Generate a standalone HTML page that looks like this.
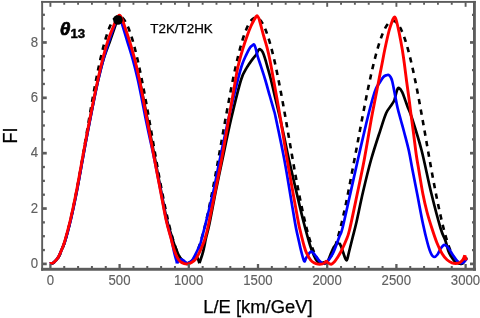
<!DOCTYPE html>
<html>
<head>
<meta charset="utf-8">
<title>FI vs L/E</title>
<style>
html,body{margin:0;padding:0;background:#ffffff;}
body{width:480px;height:318px;overflow:hidden;font-family:"Liberation Sans",sans-serif;}
svg{display:block;}
svg text{font-family:"Liberation Sans",sans-serif;}
</style>
</head>
<body>
<svg width="480" height="318" viewBox="0 0 480 318">
<rect x="0" y="0" width="480" height="318" fill="#ffffff"/>
<defs><filter id="idf" x="0" y="0" width="480" height="318" filterUnits="userSpaceOnUse"><feOffset dx="0" dy="0"/></filter><clipPath id="plot"><rect x="42.00" y="2.00" width="433.00" height="267.25"/></clipPath></defs>
<g clip-path="url(#plot)" fill="none" stroke-linejoin="round" stroke-linecap="butt">
<path d="M50.30,263.90 L51.09,263.84 L51.88,263.65 L52.68,263.34 L53.47,262.90 L54.26,262.34 L55.05,261.66 L55.84,260.86 L56.64,259.93 L57.43,258.88 L58.22,257.71 L59.01,256.43 L59.80,255.02 L60.50,253.51 L61.19,251.87 L61.88,250.13 L62.57,248.27 L63.26,246.30 L63.96,244.23 L64.65,242.05 L65.34,239.77 L66.03,237.39 L66.72,234.91 L67.42,232.34 L68.11,229.67 L68.80,226.91 L69.49,224.07 L70.18,221.14 L70.88,218.12 L71.57,215.03 L72.26,211.87 L72.95,208.63 L73.64,205.32 L74.34,201.95 L75.03,198.51 L75.72,195.02 L76.41,191.47 L77.10,187.87 L77.80,184.22 L78.49,180.52 L79.18,176.79 L79.87,173.02 L80.55,169.21 L81.21,165.37 L81.88,161.51 L82.54,157.63 L83.20,153.73 L83.86,149.82 L84.52,145.89 L85.18,141.97 L85.85,138.03 L86.51,134.10 L87.17,130.18 L87.83,126.27 L88.49,122.37 L89.15,118.48 L89.82,114.62 L90.48,110.79 L91.14,106.98 L91.80,103.21 L92.47,99.48 L93.13,95.78 L93.79,92.13 L94.46,88.53 L95.12,84.98 L95.79,81.49 L96.45,78.05 L97.12,74.68 L97.78,71.37 L98.45,68.13 L99.12,64.96 L99.79,61.87 L100.46,58.86 L101.13,55.93 L101.80,53.09 L102.47,50.33 L103.14,47.66 L103.81,45.09 L104.48,42.61 L105.16,40.23 L105.83,37.94 L106.50,35.77 L107.18,33.69 L107.86,31.73 L108.54,29.87 L109.21,28.12 L109.89,26.49 L110.57,24.97 L111.25,23.57 L111.94,22.28 L112.62,21.11 L113.30,20.06 L113.99,19.14 L114.67,18.33 L115.36,17.65 L116.05,17.09 L116.74,16.65 L117.43,16.34 L118.12,16.15 L118.81,16.08 L119.50,16.15 L120.19,16.33 L120.88,16.64 L121.57,17.08 L122.26,17.63 L122.95,18.31 L123.64,19.12 L124.33,20.04 L125.02,21.09 L125.71,22.26 L126.40,23.54 L127.09,24.94 L127.77,26.46 L128.46,28.09 L129.15,29.83 L129.83,31.69 L130.52,33.65 L131.21,35.72 L131.89,37.90 L132.58,40.18 L133.26,42.55 L133.95,45.03 L134.63,47.60 L135.32,50.27 L136.00,53.02 L136.68,55.87 L137.37,58.79 L138.05,61.80 L138.73,64.89 L139.42,68.05 L140.10,71.29 L140.78,74.59 L141.46,77.97 L142.15,81.40 L142.83,84.89 L143.51,88.44 L144.19,92.04 L144.87,95.68 L145.55,99.37 L146.24,103.11 L146.92,106.88 L147.60,110.68 L148.28,114.51 L148.96,118.37 L149.64,122.25 L150.32,126.15 L151.00,130.06 L151.68,133.98 L152.36,137.91 L153.04,141.84 L153.72,145.76 L154.40,149.68 L155.08,153.60 L155.77,157.49 L156.45,161.37 L157.13,165.23 L157.81,169.07 L158.49,172.87 L159.19,176.64 L159.88,180.38 L160.57,184.07 L161.26,187.72 L161.95,191.32 L162.65,194.87 L163.34,198.36 L164.03,201.80 L164.72,205.17 L165.41,208.48 L166.11,211.72 L166.80,214.89 L167.49,217.98 L168.18,220.99 L168.87,223.92 L169.57,226.77 L170.26,229.53 L170.95,232.20 L171.64,234.77 L172.33,237.26 L173.03,239.64 L173.72,241.92 L174.41,244.11 L175.10,246.18 L175.79,248.15 L176.49,250.01 L177.18,251.77 L177.87,253.40 L178.56,254.93 L179.25,256.34 L179.95,257.63 L180.66,258.80 L181.37,259.86 L182.09,260.79 L182.80,261.61 L183.52,262.30 L184.23,262.86 L184.95,263.31 L185.66,263.63 L186.37,263.83 L187.09,263.90 L187.80,263.85 L188.52,263.67 L189.23,263.37 L189.95,262.95 L190.66,262.40 L191.38,261.73 L192.09,260.94 L192.81,260.02 L193.52,258.99 L194.23,257.84 L194.93,256.56 L195.62,255.18 L196.31,253.67 L197.00,252.05 L197.70,250.32 L198.39,248.48 L199.08,246.54 L199.77,244.48 L200.46,242.32 L201.16,240.06 L201.85,237.69 L202.54,235.23 L203.23,232.68 L203.92,230.03 L204.62,227.29 L205.31,224.46 L206.00,221.55 L206.69,218.56 L207.38,215.49 L208.08,212.35 L208.77,209.13 L209.46,205.84 L210.15,202.49 L210.84,199.08 L211.54,195.61 L212.23,192.08 L212.92,188.50 L213.61,184.87 L214.30,181.20 L215.00,177.49 L215.69,173.74 L216.38,169.95 L217.07,166.14 L217.76,162.30 L218.46,158.44 L219.15,154.57 L219.84,150.68 L220.53,146.77 L221.22,142.87 L221.92,138.96 L222.61,135.05 L223.30,131.15 L223.99,127.26 L224.68,123.38 L225.38,119.52 L226.07,115.68 L226.76,111.87 L227.45,108.09 L228.14,104.33 L228.84,100.62 L229.53,96.95 L230.22,93.32 L230.91,89.74 L231.60,86.21 L232.30,82.73 L232.99,79.31 L233.68,75.96 L234.37,72.67 L235.06,69.45 L235.76,66.30 L236.45,63.23 L237.14,60.23 L237.83,57.32 L238.52,54.49 L239.22,51.74 L239.91,49.09 L240.60,46.53 L241.29,44.06 L241.98,41.69 L242.68,39.42 L243.37,37.26 L244.06,35.20 L244.75,33.24 L245.44,31.39 L246.14,29.65 L246.83,28.03 L247.52,26.52 L248.21,25.12 L248.90,23.84 L249.60,22.67 L250.29,21.63 L250.98,20.71 L251.67,19.90 L252.36,19.22 L253.06,18.66 L253.75,18.23 L254.44,17.91 L255.13,17.72 L255.82,17.66 L256.52,17.72 L257.21,17.90 L257.90,18.21 L258.59,18.63 L259.28,19.19 L259.96,19.86 L260.65,20.66 L261.34,21.57 L262.03,22.61 L262.71,23.77 L263.40,25.04 L264.08,26.43 L264.77,27.94 L265.45,29.55 L266.13,31.28 L266.82,33.13 L267.50,35.07 L268.18,37.13 L268.86,39.29 L269.54,41.55 L270.22,43.91 L270.90,46.37 L271.58,48.92 L272.26,51.57 L272.93,54.30 L273.61,57.13 L274.29,60.03 L274.97,63.02 L275.64,66.08 L276.32,69.22 L276.99,72.44 L277.67,75.72 L278.34,79.06 L279.02,82.47 L279.69,85.94 L280.36,89.46 L281.04,93.03 L281.71,96.66 L282.38,100.32 L283.06,104.03 L283.73,107.77 L284.40,111.55 L285.07,115.35 L285.75,119.18 L286.42,123.04 L287.09,126.91 L287.76,130.79 L288.43,134.68 L289.11,138.58 L289.78,142.49 L290.45,146.39 L291.12,150.28 L291.79,154.16 L292.46,158.04 L293.14,161.89 L293.81,165.72 L294.48,169.53 L295.16,173.31 L295.85,177.05 L296.54,180.76 L297.24,184.43 L297.93,188.06 L298.62,191.63 L299.31,195.16 L300.00,198.63 L300.70,202.05 L301.39,205.40 L302.08,208.68 L302.77,211.90 L303.46,215.05 L304.16,218.12 L304.85,221.12 L305.54,224.03 L306.23,226.86 L306.92,229.61 L307.62,232.26 L308.31,234.82 L309.00,237.29 L309.69,239.66 L310.38,241.94 L311.08,244.11 L311.77,246.18 L312.46,248.14 L313.15,249.99 L313.84,251.74 L314.54,253.37 L315.23,254.89 L315.92,256.30 L316.61,257.59 L317.29,258.76 L317.96,259.81 L318.63,260.75 L319.30,261.57 L319.98,262.26 L320.65,262.83 L321.32,263.28 L321.99,263.61 L322.66,263.82 L323.34,263.90 L324.01,263.86 L324.68,263.69 L325.35,263.41 L326.02,263.00 L326.70,262.46 L327.37,261.81 L328.04,261.04 L328.71,260.14 L329.38,259.13 L330.06,257.99 L330.74,256.75 L331.44,255.38 L332.13,253.90 L332.82,252.31 L333.51,250.61 L334.20,248.79 L334.90,246.87 L335.59,244.85 L336.28,242.72 L336.97,240.49 L337.66,238.16 L338.36,235.73 L339.05,233.21 L339.74,230.60 L340.43,227.90 L341.12,225.11 L341.82,222.24 L342.51,219.28 L343.20,216.25 L343.89,213.15 L344.58,209.97 L345.28,206.73 L345.97,203.42 L346.66,200.05 L347.35,196.62 L348.04,193.14 L348.74,189.60 L349.43,186.02 L350.12,182.39 L350.81,178.73 L351.50,175.02 L352.20,171.29 L352.93,167.52 L353.65,163.73 L354.37,159.92 L355.09,156.09 L355.81,152.25 L356.54,148.40 L357.26,144.54 L357.98,140.68 L358.70,136.82 L359.43,132.96 L360.15,129.12 L360.87,125.29 L361.59,121.47 L362.31,117.68 L363.04,113.91 L363.76,110.18 L364.48,106.47 L365.20,102.80 L365.92,99.17 L366.64,95.59 L367.36,92.05 L368.08,88.56 L368.80,85.13 L369.52,81.75 L370.24,78.44 L370.95,75.19 L371.67,72.00 L372.39,68.89 L373.10,65.86 L373.82,62.90 L374.53,60.02 L375.25,57.22 L375.96,54.51 L376.68,51.89 L377.39,49.36 L378.10,46.92 L378.81,44.58 L379.52,42.34 L380.23,40.19 L380.94,38.16 L381.64,36.22 L382.35,34.40 L383.06,32.68 L383.76,31.07 L384.46,29.58 L385.17,28.19 L385.87,26.93 L386.57,25.78 L387.27,24.74 L387.97,23.83 L388.67,23.04 L389.37,22.36 L390.06,21.81 L390.76,21.37 L391.45,21.06 L392.15,20.87 L392.84,20.81 L393.53,20.86 L394.22,21.04 L394.91,21.34 L395.60,21.76 L396.29,22.31 L396.98,22.97 L397.67,23.75 L398.36,24.66 L399.04,25.68 L399.73,26.82 L400.42,28.07 L401.10,29.44 L401.79,30.93 L402.47,32.52 L403.16,34.23 L403.84,36.04 L404.52,37.96 L405.20,39.99 L405.88,42.12 L406.57,44.35 L407.25,46.68 L407.93,49.10 L408.61,51.62 L409.29,54.23 L409.96,56.93 L410.64,59.71 L411.32,62.58 L412.00,65.53 L412.67,68.55 L413.35,71.65 L414.03,74.82 L414.70,78.05 L415.38,81.35 L416.06,84.72 L416.73,88.13 L417.41,91.61 L418.08,95.13 L418.75,98.71 L419.43,102.32 L420.10,105.98 L420.78,109.67 L421.45,113.40 L422.12,117.15 L422.80,120.93 L423.47,124.73 L424.14,128.55 L424.82,132.38 L425.49,136.22 L426.16,140.07 L426.83,143.92 L427.51,147.77 L428.18,151.61 L428.85,155.44 L429.53,159.26 L430.20,163.07 L430.87,166.85 L431.55,170.60 L432.23,174.33 L432.92,178.03 L433.61,181.69 L434.30,185.31 L434.99,188.89 L435.69,192.42 L436.38,195.90 L437.07,199.33 L437.76,202.70 L438.45,206.00 L439.15,209.25 L439.84,212.43 L440.53,215.53 L441.22,218.57 L441.91,221.53 L442.61,224.40 L443.30,227.20 L443.99,229.91 L444.68,232.53 L445.37,235.06 L446.07,237.50 L446.76,239.85 L447.45,242.10 L448.14,244.24 L448.83,246.29 L449.53,248.23 L450.22,250.06 L450.91,251.79 L451.60,253.41 L452.29,254.91 L452.99,256.30 L453.68,257.58 L454.37,258.75 L455.06,259.80 L455.75,260.73 L456.45,261.54 L457.14,262.23 L457.83,262.81 L458.52,263.26 L459.21,263.59 L459.91,263.81 L460.60,263.90 L461.29,263.87 L461.98,263.71 L462.67,263.44 L463.37,263.05 L464.06,262.53 L464.75,261.90" stroke="#000000" stroke-width="2.6" stroke-dasharray="5.33 5.335" stroke-dashoffset="0.5"/>
<path d="M49.80,263.50 C50.43,263.35 52.22,263.60 53.60,262.60 C54.98,261.60 56.59,260.05 58.10,257.50 C59.61,254.95 61.43,250.22 62.65,247.30 C63.87,244.38 64.06,244.55 65.40,240.00 C66.74,235.45 68.83,228.00 70.70,220.00 C72.58,212.00 74.68,202.00 76.65,192.00 C78.62,182.00 80.92,168.67 82.50,160.00 C84.08,151.33 84.87,146.83 86.15,140.00 C87.43,133.17 88.90,125.67 90.20,119.00 C91.50,112.33 92.62,106.50 93.95,100.00 C95.28,93.50 96.64,86.67 98.20,80.00 C99.76,73.33 101.33,66.50 103.30,60.00 C105.27,53.50 108.02,46.67 110.00,41.00 C111.98,35.33 113.93,29.58 115.20,26.00 C116.47,22.42 116.97,21.00 117.60,19.50 C118.23,18.00 118.77,17.42 119.00,17.00 M119.00,17.00 C119.27,17.30 120.02,17.72 120.60,18.80 C121.18,19.88 121.18,19.80 122.50,23.50 C123.82,27.20 126.53,34.92 128.50,41.00 C130.47,47.08 132.47,53.50 134.30,60.00 C136.13,66.50 137.93,73.33 139.50,80.00 C141.07,86.67 142.38,93.50 143.70,100.00 C145.02,106.50 146.12,112.33 147.40,119.00 C148.68,125.67 150.10,133.17 151.40,140.00 C152.70,146.83 153.58,151.50 155.20,160.00 C156.82,168.50 159.15,181.00 161.10,191.00 C163.05,201.00 165.03,212.17 166.90,220.00 C168.77,227.83 171.10,234.00 172.30,238.00 C173.50,242.00 173.30,241.75 174.10,244.00 C174.90,246.25 176.25,249.48 177.10,251.50 C177.95,253.52 178.35,254.65 179.20,256.10 C180.05,257.55 181.32,259.13 182.20,260.20 C183.08,261.27 183.62,261.98 184.50,262.50 C185.38,263.02 186.42,263.47 187.50,263.30 C188.58,263.13 189.92,262.25 191.00,261.50 C192.08,260.75 193.12,259.65 194.00,258.80 C194.88,257.95 195.92,256.80 196.30,256.40 M196.30,256.40 C196.55,256.75 197.28,257.37 197.80,258.50 C198.32,259.63 199.13,262.42 199.40,263.20 M199.40,263.20 C199.92,261.63 201.73,256.37 202.50,253.80 C203.27,251.23 203.42,250.43 204.00,247.80 C204.58,245.17 205.10,241.97 206.00,238.00 C206.90,234.03 207.73,232.00 209.40,224.00 C211.07,216.00 213.85,200.67 216.00,190.00 C218.15,179.33 219.78,171.83 222.30,160.00 C224.82,148.17 227.98,132.33 231.10,119.00 C234.22,105.67 238.33,88.63 241.00,80.00 C243.67,71.37 245.17,70.68 247.10,67.20 C249.03,63.72 251.07,61.20 252.60,59.10 C254.13,57.00 255.68,55.35 256.30,54.60 M256.30,54.60 C256.63,53.88 257.68,51.18 258.30,50.30 C258.92,49.42 259.27,49.00 260.00,49.30 C260.73,49.60 261.83,50.47 262.70,52.10 C263.57,53.73 264.45,56.75 265.20,59.10 C265.95,61.45 266.23,62.72 267.20,66.20 C268.17,69.68 269.62,74.53 271.00,80.00 C272.38,85.47 274.00,92.67 275.50,99.00 C277.00,105.33 278.48,111.33 280.00,118.00 C281.52,124.67 283.10,132.00 284.60,139.00 C286.10,146.00 286.72,149.83 289.00,160.00 C291.28,170.17 295.87,189.67 298.30,200.00 C300.73,210.33 301.90,215.33 303.60,222.00 C305.30,228.67 307.18,235.42 308.50,240.00 C309.82,244.58 310.28,246.27 311.50,249.50 C312.72,252.73 314.63,257.27 315.80,259.40 C316.97,261.53 317.55,261.65 318.50,262.30 C319.45,262.95 321.00,263.13 321.50,263.30 M321.50,263.30 C322.00,263.12 323.47,262.57 324.50,262.20 C325.53,261.83 326.73,262.30 327.70,261.10 C328.67,259.90 329.27,257.35 330.30,255.00 C331.33,252.65 332.70,248.93 333.90,247.00 C335.10,245.07 336.57,244.07 337.50,243.40 C338.43,242.73 339.17,243.07 339.50,243.00 M339.50,243.00 C339.83,243.75 340.75,245.50 341.50,247.50 C342.25,249.50 343.33,253.08 344.00,255.00 C344.67,256.92 345.10,258.12 345.50,259.00 C345.90,259.88 346.10,260.30 346.40,260.30 C346.70,260.30 346.87,260.38 347.30,259.00 C347.73,257.62 348.13,255.50 349.00,252.00 C349.87,248.50 351.25,243.00 352.50,238.00 C353.75,233.00 354.75,229.67 356.50,222.00 C358.25,214.33 360.58,202.33 363.00,192.00 C365.42,181.67 368.12,170.28 371.00,160.00 C373.88,149.72 377.78,138.10 380.30,130.30 C382.82,122.50 384.30,117.32 386.10,113.20 C387.90,109.08 389.73,107.70 391.10,105.60 C392.47,103.50 393.77,101.43 394.30,100.60 M394.30,100.60 C394.77,98.83 396.37,92.12 397.15,90.00 C397.93,87.88 398.16,87.55 399.00,87.90 C399.84,88.25 401.17,90.07 402.20,92.10 C403.23,94.13 404.28,97.60 405.20,100.10 C406.12,102.60 406.60,104.17 407.70,107.10 C408.80,110.03 409.50,110.55 411.80,117.70 C414.10,124.85 418.30,137.62 421.50,150.00 C424.70,162.38 427.83,179.00 431.00,192.00 C434.17,205.00 438.07,219.80 440.50,228.00 C442.93,236.20 444.28,237.35 445.60,241.20 C446.92,245.05 447.47,248.53 448.40,251.10 C449.33,253.67 450.18,254.95 451.20,256.60 C452.22,258.25 453.45,259.93 454.50,261.00 C455.55,262.07 456.42,262.62 457.50,263.00 C458.58,263.38 459.92,263.55 461.00,263.30 C462.08,263.05 463.03,262.50 464.00,261.50 C464.97,260.50 466.33,258.00 466.80,257.30" stroke="#000000" stroke-width="2.7"/>
<path d="M49.80,263.50 C50.43,263.35 52.22,263.60 53.60,262.60 C54.98,261.60 56.59,260.05 58.10,257.50 C59.61,254.95 61.43,250.22 62.65,247.30 C63.87,244.38 64.06,244.55 65.40,240.00 C66.74,235.45 68.83,228.00 70.70,220.00 C72.58,212.00 74.68,202.00 76.65,192.00 C78.62,182.00 80.92,168.67 82.50,160.00 C84.08,151.33 84.87,146.83 86.15,140.00 C87.43,133.17 88.90,125.67 90.20,119.00 C91.50,112.33 92.62,106.50 93.95,100.00 C95.28,93.50 96.66,86.67 98.20,80.00 C99.74,73.33 101.40,66.50 103.20,60.00 C105.00,53.50 107.15,46.72 109.00,41.00 C110.85,35.28 112.97,29.37 114.30,25.70 C115.63,22.03 116.25,20.48 117.00,19.00 C117.75,17.52 118.50,17.17 118.80,16.80 M118.80,16.80 C119.03,17.08 119.70,17.45 120.20,18.50 C120.70,19.55 120.63,19.35 121.80,23.10 C122.97,26.85 125.35,34.85 127.20,41.00 C129.05,47.15 131.12,53.50 132.90,60.00 C134.68,66.50 136.38,73.33 137.90,80.00 C139.42,86.67 140.70,93.50 142.00,100.00 C143.30,106.50 144.33,112.33 145.70,119.00 C147.07,125.67 148.73,133.17 150.20,140.00 C151.67,146.83 152.75,151.50 154.50,160.00 C156.25,168.50 158.73,181.00 160.70,191.00 C162.67,201.00 164.57,212.17 166.30,220.00 C168.03,227.83 169.73,232.37 171.10,238.00 C172.47,243.63 173.62,250.05 174.50,253.80 C175.38,257.55 175.98,258.90 176.40,260.50 C176.82,262.10 176.90,262.92 177.00,263.40 M177.00,263.40 C177.28,262.93 178.03,261.28 178.70,260.60 C179.37,259.92 180.22,259.32 181.00,259.30 C181.78,259.28 182.60,259.97 183.40,260.50 C184.20,261.03 185.07,262.03 185.80,262.50 C186.53,262.97 187.10,263.38 187.80,263.30 C188.50,263.22 189.25,262.52 190.00,262.00 C190.75,261.48 191.47,261.32 192.30,260.20 C193.13,259.08 194.12,257.00 195.00,255.30 C195.88,253.60 196.72,251.88 197.60,250.00 C198.48,248.12 199.58,246.00 200.30,244.00 C201.02,242.00 201.03,241.33 201.90,238.00 C202.77,234.67 203.53,232.00 205.50,224.00 C207.47,216.00 211.33,200.67 213.70,190.00 C216.07,179.33 217.23,171.83 219.70,160.00 C222.17,148.17 225.48,132.33 228.50,119.00 C231.52,105.67 235.54,89.05 237.80,80.00 C240.06,70.95 240.67,68.85 242.05,64.70 C243.43,60.55 244.76,57.95 246.10,55.10 C247.44,52.25 249.03,49.23 250.10,47.60 C251.17,45.97 251.83,45.80 252.50,45.30 C253.17,44.80 253.58,44.13 254.10,44.60 C254.62,45.07 255.02,46.18 255.60,48.10 C256.18,50.02 256.72,53.08 257.60,56.10 C258.48,59.12 259.62,62.22 260.90,66.20 C262.18,70.18 263.82,75.03 265.30,80.00 C266.78,84.97 268.38,91.00 269.80,96.00 C271.22,101.00 272.80,106.33 273.80,110.00 C274.80,113.67 274.03,109.67 275.80,118.00 C277.57,126.33 281.83,146.33 284.40,160.00 C286.97,173.67 289.45,189.67 291.20,200.00 C292.95,210.33 294.03,217.00 294.90,222.00 C295.77,227.00 295.83,227.25 296.40,230.00 C296.97,232.75 297.63,235.50 298.30,238.50 C298.97,241.50 299.73,245.17 300.40,248.00 C301.07,250.83 301.78,253.57 302.30,255.50 C302.82,257.43 303.15,258.62 303.50,259.60 C303.85,260.58 304.13,261.23 304.40,261.40 C304.67,261.57 304.85,261.10 305.10,260.60 C305.35,260.10 305.48,259.20 305.90,258.40 C306.32,257.60 307.00,256.73 307.60,255.80 C308.20,254.87 308.87,253.48 309.50,252.80 C310.13,252.12 310.73,251.63 311.40,251.70 C312.07,251.77 312.70,252.37 313.50,253.20 C314.30,254.03 315.15,255.35 316.20,256.70 C317.25,258.05 318.62,260.17 319.80,261.30 C320.98,262.43 322.18,263.40 323.30,263.50 C324.42,263.60 325.47,262.67 326.50,261.90 C327.53,261.13 328.42,260.35 329.50,258.90 C330.58,257.45 331.88,255.47 333.00,253.20 C334.12,250.93 335.10,248.17 336.20,245.30 C337.30,242.43 338.57,238.80 339.60,236.00 C340.63,233.20 340.67,235.33 342.40,228.50 C344.13,221.67 347.43,206.42 350.00,195.00 C352.57,183.58 355.03,172.17 357.80,160.00 C360.57,147.83 364.10,132.33 366.60,122.00 C369.10,111.67 371.23,103.58 372.80,98.00 C374.37,92.42 374.93,90.95 376.00,88.50 C377.07,86.05 377.97,85.22 379.20,83.30 C380.43,81.38 382.18,78.35 383.40,77.00 C384.62,75.65 385.62,75.53 386.50,75.20 C387.38,74.87 388.03,74.73 388.70,75.00 C389.37,75.27 389.90,75.72 390.50,76.80 C391.10,77.88 391.52,78.30 392.30,81.50 C393.08,84.70 394.32,91.58 395.20,96.00 C396.08,100.42 396.67,104.00 397.60,108.00 C398.53,112.00 399.72,116.00 400.80,120.00 C401.88,124.00 402.78,127.00 404.10,132.00 C405.42,137.00 407.30,143.67 408.70,150.00 C410.10,156.33 411.08,162.67 412.50,170.00 C413.92,177.33 415.45,185.00 417.20,194.00 C418.95,203.00 421.28,215.83 423.00,224.00 C424.72,232.17 426.17,238.08 427.50,243.00 C428.83,247.92 429.90,251.17 431.00,253.50 C432.10,255.83 433.02,256.83 434.10,257.00 C435.18,257.17 436.35,256.00 437.50,254.50 C438.65,253.00 439.85,249.62 441.00,248.00 C442.15,246.38 443.23,244.88 444.40,244.80 C445.57,244.72 446.65,245.88 448.00,247.50 C449.35,249.12 451.00,252.28 452.50,254.50 C454.00,256.72 455.58,259.35 457.00,260.80 C458.42,262.25 459.83,263.00 461.00,263.20 C462.17,263.40 463.03,262.80 464.00,262.00 C464.97,261.20 466.33,259.00 466.80,258.40" stroke="#0000ff" stroke-width="2.7"/>
<path d="M49.80,263.50 C50.43,263.35 52.22,263.60 53.60,262.60 C54.98,261.60 56.59,260.05 58.10,257.50 C59.61,254.95 61.48,250.22 62.65,247.30 C63.82,244.38 63.82,244.55 65.10,240.00 C66.38,235.45 68.48,228.00 70.35,220.00 C72.22,212.00 74.33,202.00 76.30,192.00 C78.27,182.00 80.57,168.67 82.15,160.00 C83.73,151.33 84.52,146.83 85.80,140.00 C87.08,133.17 88.55,125.67 89.85,119.00 C91.15,112.33 92.27,106.50 93.60,100.00 C94.92,93.50 96.32,86.67 97.80,80.00 C99.28,73.33 100.78,66.50 102.45,60.00 C104.12,53.50 106.01,46.63 107.85,41.00 C109.69,35.37 112.12,29.67 113.50,26.20 C114.88,22.73 115.45,21.65 116.10,20.20 C116.75,18.75 117.02,18.20 117.40,17.50 C117.78,16.80 118.07,16.37 118.40,16.00 C118.73,15.63 119.07,15.32 119.40,15.30 C119.73,15.28 120.07,15.52 120.40,15.90 C120.73,16.28 121.03,16.85 121.40,17.60 C121.77,18.35 122.18,19.32 122.60,20.40 C123.02,21.48 123.10,21.75 123.90,24.10 C124.70,26.45 126.43,31.60 127.40,34.50 C128.37,37.40 128.45,37.25 129.70,41.50 C130.95,45.75 133.27,53.58 134.90,60.00 C136.53,66.42 138.09,73.33 139.50,80.00 C140.91,86.67 142.12,93.50 143.35,100.00 C144.58,106.50 145.65,112.33 146.90,119.00 C148.15,125.67 149.57,133.17 150.85,140.00 C152.13,146.83 152.99,151.50 154.60,160.00 C156.21,168.50 158.58,181.00 160.50,191.00 C162.42,201.00 164.37,212.17 166.10,220.00 C167.83,227.83 169.84,234.00 170.90,238.00 C171.96,242.00 171.82,241.75 172.45,244.00 C173.08,246.25 173.88,249.23 174.70,251.50 C175.52,253.77 176.45,255.90 177.40,257.60 C178.35,259.30 179.27,260.70 180.40,261.70 C181.53,262.70 182.97,263.23 184.20,263.60 C185.43,263.97 186.58,264.07 187.80,263.90 C189.02,263.73 190.18,263.40 191.50,262.60 C192.82,261.80 194.43,260.69 195.70,259.10 C196.97,257.51 198.02,255.18 199.10,253.05 C200.18,250.92 201.13,248.81 202.15,246.30 C203.17,243.79 204.12,241.72 205.20,238.00 C206.27,234.28 206.88,232.00 208.60,224.00 C210.32,216.00 213.35,200.67 215.50,190.00 C217.65,179.33 219.30,171.83 221.50,160.00 C223.70,148.17 226.37,132.33 228.70,119.00 C231.03,105.67 233.93,88.80 235.50,80.00 C237.07,71.20 236.84,71.52 238.10,66.20 C239.36,60.88 241.55,53.13 243.05,48.10 C244.55,43.07 245.78,39.68 247.10,36.00 C248.42,32.32 249.80,28.73 251.00,26.00 C252.20,23.27 253.48,21.13 254.30,19.60 C255.12,18.07 255.45,17.45 255.90,16.80 C256.35,16.15 256.65,15.68 257.00,15.70 C257.35,15.72 257.60,16.18 258.00,16.90 C258.40,17.62 258.45,16.82 259.40,20.00 C260.35,23.18 262.40,31.32 263.70,36.00 C265.00,40.68 266.17,44.10 267.20,48.10 C268.23,52.10 268.83,54.68 269.90,60.00 C270.97,65.32 272.38,73.33 273.60,80.00 C274.82,86.67 276.05,93.50 277.20,100.00 C278.35,106.50 279.38,112.33 280.50,119.00 C281.62,125.67 282.78,133.17 283.90,140.00 C285.02,146.83 285.47,150.00 287.20,160.00 C288.93,170.00 292.45,189.67 294.30,200.00 C296.15,210.33 297.30,216.83 298.30,222.00 C299.30,227.17 299.33,227.00 300.30,231.00 C301.27,235.00 303.05,242.30 304.10,246.00 C305.15,249.70 305.53,250.90 306.60,253.20 C307.67,255.50 309.27,258.20 310.50,259.80 C311.73,261.40 312.75,262.08 314.00,262.80 C315.25,263.52 316.58,263.92 318.00,264.10 C319.42,264.28 321.33,264.17 322.50,263.90 C323.67,263.63 324.35,263.07 325.00,262.50 C325.65,261.93 326.17,260.83 326.40,260.50 M326.40,260.50 C326.63,260.85 327.00,261.98 327.80,262.60 C328.60,263.22 330.08,264.35 331.20,264.20 C332.32,264.05 333.47,262.80 334.50,261.70 C335.53,260.60 336.32,259.30 337.40,257.60 C338.48,255.90 339.57,254.35 341.00,251.50 C342.43,248.65 344.58,244.08 346.00,240.50 C347.42,236.92 347.67,237.58 349.50,230.00 C351.33,222.42 354.55,206.67 357.00,195.00 C359.45,183.33 361.78,172.83 364.20,160.00 C366.62,147.17 369.63,128.33 371.50,118.00 C373.37,107.67 374.23,104.00 375.40,98.00 C376.57,92.00 377.40,87.67 378.50,82.00 C379.60,76.33 380.93,69.50 382.00,64.00 C383.07,58.50 383.73,54.50 384.90,49.00 C386.07,43.50 387.75,35.73 389.00,31.00 C390.25,26.27 391.62,22.78 392.40,20.60 C393.18,18.42 393.33,18.52 393.70,17.90 C394.07,17.28 394.30,16.88 394.60,16.90 C394.90,16.92 395.18,17.32 395.50,18.00 C395.82,18.68 395.92,18.67 396.50,21.00 C397.08,23.33 398.05,27.33 399.00,32.00 C399.95,36.67 401.30,43.67 402.20,49.00 C403.10,54.33 403.65,58.50 404.40,64.00 C405.15,69.50 405.95,76.33 406.70,82.00 C407.45,87.67 408.23,92.97 408.90,98.00 C409.57,103.03 409.93,106.37 410.70,112.20 C411.47,118.03 412.57,125.87 413.50,133.00 C414.43,140.13 415.42,148.83 416.30,155.00 C417.18,161.17 417.70,163.50 418.80,170.00 C419.90,176.50 421.53,187.00 422.90,194.00 C424.27,201.00 425.52,206.33 427.00,212.00 C428.48,217.67 430.13,222.83 431.80,228.00 C433.47,233.17 435.30,238.75 437.00,243.00 C438.70,247.25 440.33,250.70 442.00,253.50 C443.67,256.30 445.33,258.25 447.00,259.80 C448.67,261.35 450.50,262.18 452.00,262.80 C453.50,263.42 454.67,263.55 456.00,263.50 C457.33,263.45 458.87,263.12 460.00,262.50 C461.13,261.88 462.00,261.00 462.80,259.80 C463.60,258.60 464.47,256.05 464.80,255.30 M464.80,255.30 C465.05,256.13 466.05,259.47 466.30,260.30" stroke="#ff0000" stroke-width="2.9"/>
</g>
<circle cx="117.95" cy="20.0" r="4.8" fill="#000000"/>
<g stroke="#5c5c5c" fill="none">
<g stroke-width="1.9">
<line x1="50.40" y1="2.30" x2="50.40" y2="6.80"/>
<line x1="64.24" y1="2.30" x2="64.24" y2="4.75"/>
<line x1="78.08" y1="2.30" x2="78.08" y2="4.75"/>
<line x1="91.92" y1="2.30" x2="91.92" y2="4.75"/>
<line x1="105.76" y1="2.30" x2="105.76" y2="4.75"/>
<line x1="119.60" y1="2.30" x2="119.60" y2="6.80"/>
<line x1="133.44" y1="2.30" x2="133.44" y2="4.75"/>
<line x1="147.28" y1="2.30" x2="147.28" y2="4.75"/>
<line x1="161.12" y1="2.30" x2="161.12" y2="4.75"/>
<line x1="174.96" y1="2.30" x2="174.96" y2="4.75"/>
<line x1="188.80" y1="2.30" x2="188.80" y2="6.80"/>
<line x1="202.64" y1="2.30" x2="202.64" y2="4.75"/>
<line x1="216.48" y1="2.30" x2="216.48" y2="4.75"/>
<line x1="230.32" y1="2.30" x2="230.32" y2="4.75"/>
<line x1="244.16" y1="2.30" x2="244.16" y2="4.75"/>
<line x1="258.00" y1="2.30" x2="258.00" y2="6.80"/>
<line x1="271.84" y1="2.30" x2="271.84" y2="4.75"/>
<line x1="285.68" y1="2.30" x2="285.68" y2="4.75"/>
<line x1="299.52" y1="2.30" x2="299.52" y2="4.75"/>
<line x1="313.36" y1="2.30" x2="313.36" y2="4.75"/>
<line x1="327.20" y1="2.30" x2="327.20" y2="6.80"/>
<line x1="341.04" y1="2.30" x2="341.04" y2="4.75"/>
<line x1="354.88" y1="2.30" x2="354.88" y2="4.75"/>
<line x1="368.72" y1="2.30" x2="368.72" y2="4.75"/>
<line x1="382.56" y1="2.30" x2="382.56" y2="4.75"/>
<line x1="396.40" y1="2.30" x2="396.40" y2="6.80"/>
<line x1="410.24" y1="2.30" x2="410.24" y2="4.75"/>
<line x1="424.08" y1="2.30" x2="424.08" y2="4.75"/>
<line x1="437.92" y1="2.30" x2="437.92" y2="4.75"/>
<line x1="451.76" y1="2.30" x2="451.76" y2="4.75"/>
<line x1="465.60" y1="2.30" x2="465.60" y2="6.80"/>
</g>
<g stroke-width="2.0">
<line x1="64.24" y1="268.50" x2="64.24" y2="266.00"/>
<line x1="78.08" y1="268.50" x2="78.08" y2="266.00"/>
<line x1="91.92" y1="268.50" x2="91.92" y2="266.00"/>
<line x1="105.76" y1="268.50" x2="105.76" y2="266.00"/>
<line x1="133.44" y1="268.50" x2="133.44" y2="266.00"/>
<line x1="147.28" y1="268.50" x2="147.28" y2="266.00"/>
<line x1="161.12" y1="268.50" x2="161.12" y2="266.00"/>
<line x1="174.96" y1="268.50" x2="174.96" y2="266.00"/>
<line x1="202.64" y1="268.50" x2="202.64" y2="266.00"/>
<line x1="216.48" y1="268.50" x2="216.48" y2="266.00"/>
<line x1="230.32" y1="268.50" x2="230.32" y2="266.00"/>
<line x1="244.16" y1="268.50" x2="244.16" y2="266.00"/>
<line x1="271.84" y1="268.50" x2="271.84" y2="266.00"/>
<line x1="285.68" y1="268.50" x2="285.68" y2="266.00"/>
<line x1="299.52" y1="268.50" x2="299.52" y2="266.00"/>
<line x1="313.36" y1="268.50" x2="313.36" y2="266.00"/>
<line x1="341.04" y1="268.50" x2="341.04" y2="266.00"/>
<line x1="354.88" y1="268.50" x2="354.88" y2="266.00"/>
<line x1="368.72" y1="268.50" x2="368.72" y2="266.00"/>
<line x1="382.56" y1="268.50" x2="382.56" y2="266.00"/>
<line x1="410.24" y1="268.50" x2="410.24" y2="266.00"/>
<line x1="424.08" y1="268.50" x2="424.08" y2="266.00"/>
<line x1="437.92" y1="268.50" x2="437.92" y2="266.00"/>
<line x1="451.76" y1="268.50" x2="451.76" y2="266.00"/>
</g>
<g stroke-width="2.3">
<line x1="50.40" y1="268.50" x2="50.40" y2="264.00"/>
<line x1="119.60" y1="268.50" x2="119.60" y2="264.00"/>
<line x1="188.80" y1="268.50" x2="188.80" y2="264.00"/>
<line x1="258.00" y1="268.50" x2="258.00" y2="264.00"/>
<line x1="327.20" y1="268.50" x2="327.20" y2="264.00"/>
<line x1="396.40" y1="268.50" x2="396.40" y2="264.00"/>
<line x1="465.60" y1="268.50" x2="465.60" y2="264.00"/>
<line x1="42.50" y1="250.06" x2="44.90" y2="250.06"/>
<line x1="473.50" y1="250.06" x2="472.00" y2="250.06"/>
<line x1="42.50" y1="236.22" x2="44.90" y2="236.22"/>
<line x1="473.50" y1="236.22" x2="472.00" y2="236.22"/>
<line x1="42.50" y1="222.38" x2="44.90" y2="222.38"/>
<line x1="473.50" y1="222.38" x2="472.00" y2="222.38"/>
<line x1="42.50" y1="194.70" x2="44.90" y2="194.70"/>
<line x1="473.50" y1="194.70" x2="472.00" y2="194.70"/>
<line x1="42.50" y1="180.86" x2="44.90" y2="180.86"/>
<line x1="473.50" y1="180.86" x2="472.00" y2="180.86"/>
<line x1="42.50" y1="167.02" x2="44.90" y2="167.02"/>
<line x1="473.50" y1="167.02" x2="472.00" y2="167.02"/>
<line x1="42.50" y1="139.34" x2="44.90" y2="139.34"/>
<line x1="473.50" y1="139.34" x2="472.00" y2="139.34"/>
<line x1="42.50" y1="125.50" x2="44.90" y2="125.50"/>
<line x1="473.50" y1="125.50" x2="472.00" y2="125.50"/>
<line x1="42.50" y1="111.66" x2="44.90" y2="111.66"/>
<line x1="473.50" y1="111.66" x2="472.00" y2="111.66"/>
<line x1="42.50" y1="83.98" x2="44.90" y2="83.98"/>
<line x1="473.50" y1="83.98" x2="472.00" y2="83.98"/>
<line x1="42.50" y1="70.14" x2="44.90" y2="70.14"/>
<line x1="473.50" y1="70.14" x2="472.00" y2="70.14"/>
<line x1="42.50" y1="56.30" x2="44.90" y2="56.30"/>
<line x1="473.50" y1="56.30" x2="472.00" y2="56.30"/>
<line x1="42.50" y1="28.62" x2="44.90" y2="28.62"/>
<line x1="473.50" y1="28.62" x2="472.00" y2="28.62"/>
<line x1="42.50" y1="14.78" x2="44.90" y2="14.78"/>
<line x1="473.50" y1="14.78" x2="472.00" y2="14.78"/>
</g>
<g stroke-width="2.7">
<line x1="42.50" y1="263.90" x2="46.75" y2="263.90"/>
<line x1="473.50" y1="263.90" x2="470.00" y2="263.90"/>
<line x1="42.50" y1="208.54" x2="46.75" y2="208.54"/>
<line x1="473.50" y1="208.54" x2="470.00" y2="208.54"/>
<line x1="42.50" y1="153.18" x2="46.75" y2="153.18"/>
<line x1="473.50" y1="153.18" x2="470.00" y2="153.18"/>
<line x1="42.50" y1="97.82" x2="46.75" y2="97.82"/>
<line x1="473.50" y1="97.82" x2="470.00" y2="97.82"/>
<line x1="42.50" y1="42.46" x2="46.75" y2="42.46"/>
<line x1="473.50" y1="42.46" x2="470.00" y2="42.46"/>
</g>
</g>
<g fill="#5c5c5c" stroke="none">
<rect x="41.20" y="0.95" width="1.90" height="269.80"/>
<rect x="41.20" y="0.95" width="434.65" height="1.90"/>
<rect x="473.00" y="0.95" width="2.85" height="269.80"/>
<rect x="41.20" y="267.80" width="434.65" height="2.95"/>
</g>
<g filter="url(#idf)">
<g font-size="14.5px" fill="#606060" stroke="#606060" stroke-width="0.15">
<text transform="translate(50.30,285.35) scale(0.910,1)" text-anchor="middle">0</text>
<text transform="translate(119.50,285.35) scale(0.910,1)" text-anchor="middle">500</text>
<text transform="translate(188.70,285.35) scale(0.910,1)" text-anchor="middle">1000</text>
<text transform="translate(257.90,285.35) scale(0.910,1)" text-anchor="middle">1500</text>
<text transform="translate(327.10,285.35) scale(0.910,1)" text-anchor="middle">2000</text>
<text transform="translate(396.30,285.35) scale(0.910,1)" text-anchor="middle">2500</text>
<text transform="translate(465.50,285.35) scale(0.910,1)" text-anchor="middle">3000</text>
<text transform="translate(38.0,268.15) scale(0.910,1)" text-anchor="end">0</text>
<text transform="translate(38.0,212.79) scale(0.910,1)" text-anchor="end">2</text>
<text transform="translate(38.0,157.43) scale(0.910,1)" text-anchor="end">4</text>
<text transform="translate(38.0,102.07) scale(0.910,1)" text-anchor="end">6</text>
<text transform="translate(38.0,46.71) scale(0.910,1)" text-anchor="end">8</text>
</g>
<text x="59.70" y="35.00" font-size="19px" font-weight="bold" font-style="italic" fill="#000" stroke="#000" stroke-width="0.7">&#952;</text>
<text x="70.50" y="38.20" font-size="13.2px" font-weight="bold" fill="#000" stroke="#000" stroke-width="0.45">13</text>
<text x="150.30" y="32.60" font-size="13.4px" fill="#000" stroke="#000" stroke-width="0.25">T2K/T2HK</text>
<text x="203.20" y="313.00" font-size="18.4px" fill="#000" stroke="#000" stroke-width="0.25">L/E [km/GeV]</text>
<text transform="translate(16.85,143.40) rotate(-90) scale(0.925,1)" font-size="19.5px" fill="#000" stroke="#000" stroke-width="0.25">FI</text>
</g>
</svg>
</body>
</html>
